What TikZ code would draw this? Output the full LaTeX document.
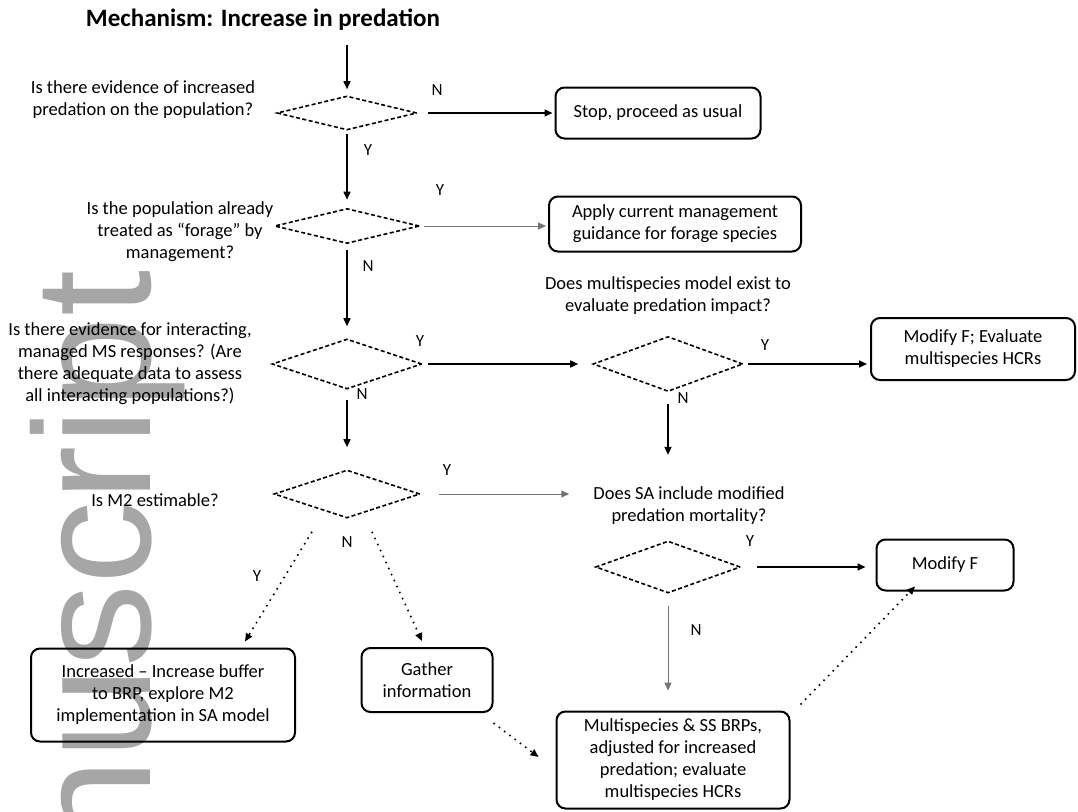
\documentclass[tikz,border=0pt]{standalone}
\usepackage{fontspec}
\setmainfont{Carlito}
\newfontfamily\wmfont{Liberation Sans}
\usetikzlibrary{shapes.geometric,arrows.meta,calc}

\begin{document}
\begin{tikzpicture}[x=1pt,y=-1pt,
  txt/.style={align=center,font=\fontsize{18.5}{22}\selectfont,inner sep=0pt},
  lab/.style={font=\fontsize{17}{20}\selectfont,inner sep=0pt},
  dec/.style={diamond,draw,dash pattern=on 4pt off 2.5pt,line width=1.6pt,inner sep=0pt},
  outbox/.style={draw,rounded corners=9pt,line width=2pt,align=center,
    font=\fontsize{18.5}{22}\selectfont,inner sep=0pt},
  flow/.style={-{Triangle[length=8pt,width=7pt]},line width=1.6pt},
  thinflow/.style={flow,line width=1pt,black!55},
  dotflow/.style={flow,line width=1.6pt,dash pattern=on 1.6pt off 5pt}]

\useasboundingbox (0,0) rectangle (1078,811);
\fill[white] (0,0) rectangle (1078,811);

% watermark letters along the left edge
\begin{scope}
\clip (0,0) rectangle (1078,811);
\node[rotate=90,anchor=base west,inner sep=0pt,text=black!35,
  font=\wmfont\fontsize{166}{170}\selectfont] (wm) at (150,852) {nuscript};
\end{scope}

% title and entry point
\node[font=\bfseries\fontsize{25}{28}\selectfont,inner sep=0pt] (title) at (263,20) {Mechanism: Increase in predation};
\coordinate (entry) at (347,45);

% decisions
\node[dec,minimum width=140pt,minimum height=34pt] (d1) at (347,113) {};
\node[dec,minimum width=145pt,minimum height=35pt] (d2) at (347,226) {};
\node[dec,minimum width=150pt,minimum height=50pt] (d3) at (347,364) {};
\node[dec,minimum width=150pt,minimum height=55pt] (d4) at (668,364) {};
\node[dec,minimum width=146pt,minimum height=48pt] (d5) at (347,494) {};
\node[dec,minimum width=145pt,minimum height=52pt] (d6) at (668,567) {};

% questions
\node[txt] (q1) at (143,100) {Is there evidence of increased\\predation on the population?};
\node[txt] (q2) at (180,232) {Is the population already\\treated as ``forage'' by\\management?};
\node[txt] (q3) at (130,364) {Is there evidence for interacting,\\managed MS responses? (Are\\there adequate data to assess\\all interacting populations?)};
\node[txt] (q4) at (668,296) {Does multispecies model exist to\\evaluate predation impact?};
\node[txt] (q5) at (155,500) {Is M2 estimable?};
\node[txt] (q6) at (689,506) {Does SA include modified\\predation mortality?};

% outcomes
\node[outbox,minimum width=205pt,minimum height=51pt] (stop) at (658,113) {Stop, proceed as usual};
\node[outbox,minimum width=252pt,minimum height=55pt] (apply) at (675,224) {Apply current management\\guidance for forage species};
\node[outbox,minimum width=204pt,minimum height=62pt] (modF) at (973,349) {Modify F; Evaluate\\multispecies HCRs};
\node[outbox,minimum width=137pt,minimum height=51pt] (modF2) at (945,565) {Modify F};
\node[outbox,minimum width=233pt,minimum height=97pt] (multi) at (673,760) {Multispecies \& SS BRPs,\\adjusted for increased\\predation; evaluate\\multispecies HCRs};
\node[outbox,minimum width=131pt,minimum height=64pt] (gather) at (427,680) {Gather\\information};
\node[outbox,minimum width=264pt,minimum height=93pt] (incr) at (163,695) {Increased -- Increase buffer\\to BRP, explore M2\\implementation in SA model};

% branch labels
\node[lab] (l1n) at (437,90) {N};
\node[lab] (l1y) at (368,150) {Y};
\node[lab] (l2y) at (440,190) {Y};
\node[lab] (l2n) at (368,266) {N};
\node[lab] (l3y) at (420,341) {Y};
\node[lab] (l3n) at (362,394) {N};
\node[lab] (l4y) at (765,345) {Y};
\node[lab] (l4n) at (683,398) {N};
\node[lab] (l5y) at (447,470) {Y};
\node[lab] (l5n) at (347,542) {N};
\node[lab] (l5b) at (257,576) {Y};
\node[lab] (l6y) at (750,541) {Y};
\node[lab] (l6n) at (696,630) {N};

% connectors
\draw[flow,shorten >=6pt] (entry) -- (d1.north);
\draw[flow,shorten <=10pt,shorten >=2pt] (d1.east) -- (stop.west);
\draw[flow,shorten <=3pt,shorten >=8pt] (d1.south) -- (d2.north);
\draw[thinflow,shorten <=4pt,shorten >=2pt] (d2.east) -- (apply.west |- d2.east);
\draw[flow,shorten <=6pt,shorten >=12pt] (d2.south) -- (d3.north);
\draw[flow,shorten <=5pt,shorten >=14pt] (d3.east) -- (d4.west);
\draw[flow,shorten <=4pt,shorten >=3pt] (d4.east) -- (modF.west |- d4.east);
\draw[flow,shorten <=12pt,shorten >=32pt] (d4.south) -- (q6.north -| d4.south);
\draw[flow,shorten <=10pt,shorten >=22pt] (d3.south) -- (d5.north);
\draw[thinflow,shorten <=18pt,shorten >=24pt] (d5.east) -- (q6.west |- d5.east);
\draw[flow,shorten <=16pt,shorten >=10pt] (d6.east) -- (modF2.west |- d6.east);
\draw[thinflow,shorten <=12pt,shorten >=20pt] (d6.south) -- (multi.north -| d6.south);
\draw[dotflow] ([shift={(-35,13)}]d5.south) -- ([shift={(82,-6)}]incr.north);
\draw[dotflow] ([shift={(25,13)}]d5.south) -- ([shift={(-5,-6)}]gather.north);
\draw[dotflow] ([shift={(0,10)}]gather.south east) -- ([shift={(-17,-3)}]multi.west);
\draw[dotflow] ([shift={(10,-6)}]multi.north east) -- ([shift={(-30,-5)}]modF2.south);

\end{tikzpicture}
\end{document}
